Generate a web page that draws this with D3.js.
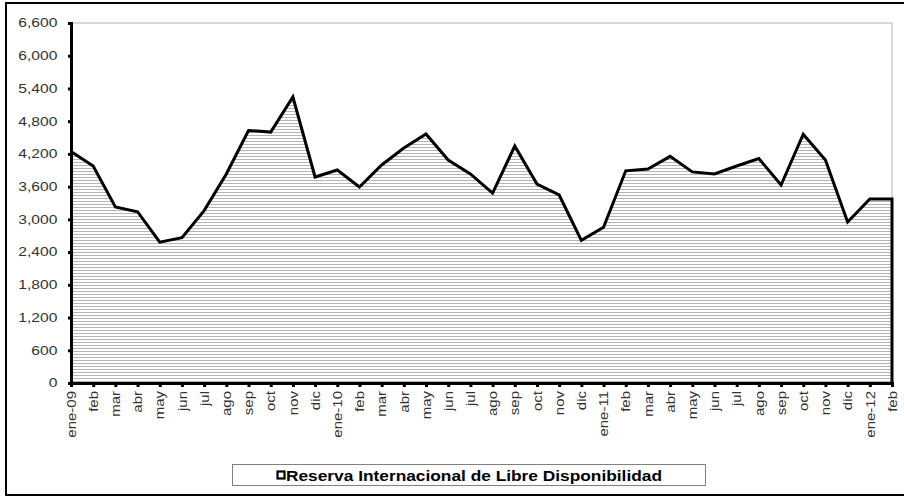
<!DOCTYPE html>
<html>
<head>
<meta charset="utf-8">
<script src="https://cdn.jsdelivr.net/npm/d3@7"></script>
<style>
  body { margin: 0; background: #fff; }
  svg { display: block; }
</style>
</head>
<body>
<svg width="904" height="497"></svg>
<script>
// etiquetas del eje X
const meses = ["ene-09", "feb", "mar", "abr", "may", "jun", "jul", "ago", "sep", "oct", "nov", "dic",
               "ene-10", "feb", "mar", "abr", "may", "jun", "jul", "ago", "sep", "oct", "nov", "dic",
               "ene-11", "feb", "mar", "abr", "may", "jun", "jul", "ago", "sep", "oct", "nov", "dic",
               "ene-12", "feb"];
// Reserva Internacional de Libre Disponibilidad
const reserva = [4245, 3978, 3227, 3140, 2582, 2665, 3160, 3832, 4630, 4600, 5243, 3777,
                 3905, 3593, 3997, 4308, 4565, 4088, 3832, 3483, 4345, 3648, 3447, 2615,
                 2855, 3890, 3923, 4155, 3870, 3832, 3978, 4115, 3630, 4560, 4088, 2952,
                 3373, 3373];
const yTicks = [0, 600, 1200, 1800, 2400, 3000, 3600, 4200, 4800, 5400, 6000, 6600];
const serie = "Reserva Internacional de Libre Disponibilidad";

const svg = d3.select("svg");
const area = { left: 71, right: 892, top: 23, bottom: 383 };
const fuente = "Liberation Sans, Arial, sans-serif";

// patrón de rayas horizontales para el relleno
const defs = svg.append("defs");
const pat = defs.append("pattern")
    .attr("id", "rayas")
    .attr("patternUnits", "userSpaceOnUse")
    .attr("width", 6).attr("height", 3);
pat.append("rect").attr("width", 6).attr("height", 3).attr("fill", "#fff");
pat.append("rect").attr("width", 6).attr("height", 1).attr("fill", "#b4b4b4");

// marco exterior
svg.append("path")
    .attr("d", "M6,496 L6,3 L910,3 M6,495 L910,495")
    .attr("fill", "none").attr("stroke", "#000").attr("stroke-width", 2);

const scX = d3.scalePoint()
    .domain(d3.range(meses.length))
    .range([area.left, area.right]);
const scY = d3.scaleLinear()
    .domain([0, 6600])
    .range([area.bottom, area.top]);

// borde del área de trazado
svg.append("rect")
    .attr("x", area.left).attr("y", area.top)
    .attr("width", area.right - area.left).attr("height", area.bottom - area.top)
    .attr("fill", "none").attr("stroke", "#b5b5b5").attr("stroke-width", 1);

// área
const areaGen = d3.area()
    .x((d, i) => scX(i))
    .y0(scY(0))
    .y1(d => scY(d));
svg.append("path")
    .datum(reserva)
    .attr("d", areaGen)
    .attr("fill", "url(#rayas)");

const lineGen = d3.line()
    .x((d, i) => scX(i))
    .y(d => scY(d));
svg.append("path")
    .attr("d", lineGen(reserva) + `L${scX(reserva.length - 1)},${scY(0)}`)
    .attr("fill", "none")
    .attr("stroke", "#000")
    .attr("stroke-width", 3)
    .attr("stroke-linejoin", "miter");

// eje Y (texto estirado en horizontal como en el original)
const axisY = d3.axisLeft(scY).tickValues(yTicks).tickSize(3)
    .tickFormat(d3.format(","));
const gY = svg.append("g")
    .attr("transform", `translate(${area.left},0)`)
    .call(axisY);
gY.select(".domain").attr("stroke-width", 3);
gY.selectAll(".tick line").attr("stroke-width", 3);
gY.selectAll("text")
    .attr("font-family", fuente)
    .attr("font-size", 12)
    .attr("fill", "#333")
    .attr("x", -10.5)
    .attr("transform", "scale(1.3,1)");

// eje X
const axisX = d3.axisBottom(scX).tickSize(4).tickFormat(i => meses[i]);
const gX = svg.append("g")
    .attr("transform", `translate(0,${area.bottom})`)
    .call(axisX);
gX.select(".domain").attr("stroke-width", 3);
gX.selectAll(".tick line").attr("stroke-width", 3);
gX.selectAll("text")
    .attr("font-family", fuente)
    .attr("font-size", 12)
    .attr("fill", "#333")
    .attr("text-anchor", "end")
    .attr("transform", "rotate(-90) scale(1.25,1)")
    .attr("x", -6.4)
    .attr("y", 0)
    .attr("dy", "0.35em");

// leyenda
const leg = svg.append("g");
leg.append("rect")
    .attr("x", 232.5).attr("y", 464.5)
    .attr("width", 473).attr("height", 21)
    .attr("fill", "#fff").attr("stroke", "#808080").attr("stroke-width", 1);
leg.append("rect")
    .attr("x", 277.5).attr("y", 471.5)
    .attr("width", 7).attr("height", 7)
    .attr("fill", "#fff").attr("stroke", "#000").attr("stroke-width", 2.2);
leg.append("text")
    .attr("x", 286).attr("y", 480.5)
    .attr("font-family", fuente)
    .attr("font-size", 15)
    .attr("font-weight", "bold")
    .attr("fill", "#000")
    .attr("textLength", 376)
    .attr("lengthAdjust", "spacingAndGlyphs")
    .text(serie);
</script>
</body>
</html>
